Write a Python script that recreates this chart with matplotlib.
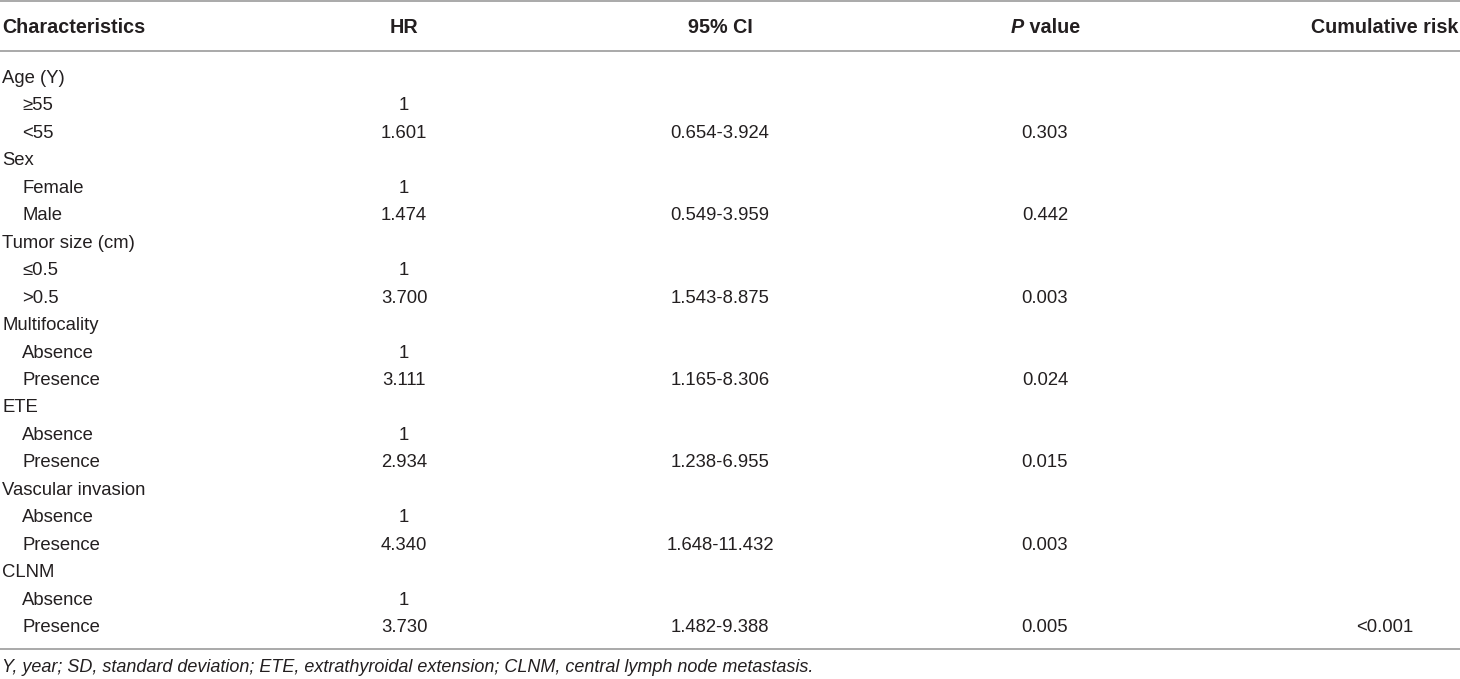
import matplotlib
matplotlib.use('Agg')
import matplotlib.pyplot as plt

plt.rcParams['font.family'] = ['Liberation Sans', 'DejaVu Sans']

# table content
headers = ['Characteristics', 'HR', '95% CI', 'P value', 'Cumulative risk']
characteristics = ['Age (Y)', '≥55', '<55',
                   'Sex', 'Female', 'Male',
                   'Tumor size (cm)', '≤0.5', '>0.5',
                   'Multifocality', 'Absence', 'Presence',
                   'ETE', 'Absence', 'Presence',
                   'Vascular invasion', 'Absence', 'Presence',
                   'CLNM', 'Absence', 'Presence']
is_group = [True, False, False] * 7
hr = ['', '1', '1.601', '', '1', '1.474', '', '1', '3.700', '', '1', '3.111',
      '', '1', '2.934', '', '1', '4.340', '', '1', '3.730']
ci = ['', '', '0.654-3.924', '', '', '0.549-3.959', '', '', '1.543-8.875',
      '', '', '1.165-8.306', '', '', '1.238-6.955', '', '', '1.648-11.432',
      '', '', '1.482-9.388']
p_value = ['', '', '0.303', '', '', '0.442', '', '', '0.003', '', '', '0.024',
           '', '', '0.015', '', '', '0.003', '', '', '0.005']
cum_risk = [''] * 20 + ['<0.001']
footnote = ('Y, year; SD, standard deviation; ETE, extrathyroidal extension; '
            'CLNM, central lymph node metastasis.')

W, H = 1460, 679
fig = plt.figure(figsize=(W / 100, H / 100), dpi=100)
ax = fig.add_axes([0, 0, 1, 1])
ax.set_xlim(0, W)
ax.set_ylim(H, 0)
ax.axis('off')

txt = '#231f20'
line_c = '#a3a3a3'
fs = 13.3
fs_head = 14.2

# column centres
col_x = [None, 404, 720, 1045, 1385]

# rules
for y in [1, 51, 649]:
    ax.plot([0, W], [y, y], color=line_c, lw=1.3, solid_capstyle='butt')

# header
head_y = 33
ax.text(2, head_y, headers[0], fontsize=fs_head, fontweight='bold', color=txt,
        ha='left', va='baseline')
for j in [1, 2, 4]:
    ax.text(col_x[j], head_y, headers[j], fontsize=fs_head, fontweight='bold',
            color=txt, ha='center', va='baseline')

# "P value" with italic P
r = fig.canvas.get_renderer()
t1 = ax.text(0, head_y, 'P', fontsize=fs_head, fontweight='bold', fontstyle='italic',
             color=txt, ha='left', va='baseline')
t2 = ax.text(0, head_y, ' value', fontsize=fs_head, fontweight='bold',
             color=txt, ha='left', va='baseline')
w1 = t1.get_window_extent(r).width
w2 = t2.get_window_extent(r).width
x0 = col_x[3] - (w1 + w2) / 2
t1.set_x(x0)
t2.set_x(x0 + w1)

# body rows
row0, step = 83, 27.45
for i, name in enumerate(characteristics):
    y = row0 + i * step
    ax.text(2 if is_group[i] else 22, y, name, fontsize=fs, color=txt,
            ha='left', va='baseline')
    for j, col in zip([1, 2, 3, 4], [hr, ci, p_value, cum_risk]):
        if col[i]:
            ax.text(col_x[j], y, col[i], fontsize=fs, color=txt,
                    ha='center', va='baseline')

ax.text(2, 672, footnote, fontsize=13.0, fontstyle='italic', color=txt,
        ha='left', va='baseline')

fig.savefig('out.png', dpi=100)
